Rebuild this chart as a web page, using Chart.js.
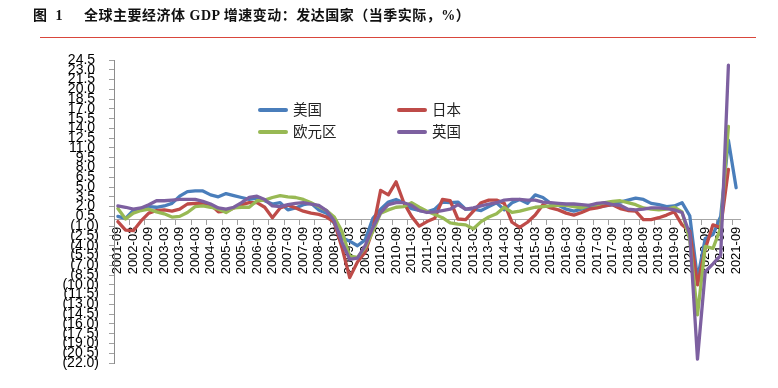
<!DOCTYPE html>
<html>
<head>
<meta charset="utf-8">
<script src="https://cdn.jsdelivr.net/npm/chart.js@4.4.1/dist/chart.umd.min.js"></script>
<style>
  html, body { margin: 0; padding: 0; background: #fff; }
  #wrap { position: relative; width: 778px; height: 388px; overflow: hidden; }
  #c { position: absolute; left: 0; top: 0; }
  .title { position: absolute; top: 7px; font-family: "Liberation Serif", "Noto Sans CJK SC", serif; font-weight: bold; font-size: 14px; color: #111; white-space: nowrap; line-height: 18px; letter-spacing: 0.5px; }
  #rule { position: absolute; left: 40px; top: 37px; width: 716px; height: 1px; background: #d9463b; }
  .lg { position: absolute; font-family: "Noto Sans CJK SC", sans-serif; font-size: 14.5px; color: #222; line-height: 18px; white-space: nowrap; }
  .sw { position: absolute; width: 30px; height: 4px; border-radius: 2px; }
</style>
</head>
<body>
<div id="wrap">
  <canvas id="c" width="778" height="388"></canvas>
  <div class="title" style="left:33px;">图&nbsp;&nbsp;1</div>
  <div class="title" style="left:84px;">全球主要经济体 GDP 增速变动：发达国家（当季实际，%）</div>
  <div id="rule"></div>
  <div id="legend"></div>
</div>
<script>
const quarters = [
 "2001-09","2001-12",
 "2002-03","2002-06","2002-09","2002-12",
 "2003-03","2003-06","2003-09","2003-12",
 "2004-03","2004-06","2004-09","2004-12",
 "2005-03","2005-06","2005-09","2005-12",
 "2006-03","2006-06","2006-09","2006-12",
 "2007-03","2007-06","2007-09","2007-12",
 "2008-03","2008-06","2008-09","2008-12",
 "2009-03","2009-06","2009-09","2009-12",
 "2010-03","2010-06","2010-09","2010-12",
 "2011-03","2011-06","2011-09","2011-12",
 "2012-03","2012-06","2012-09","2012-12",
 "2013-03","2013-06","2013-09","2013-12",
 "2014-03","2014-06","2014-09","2014-12",
 "2015-03","2015-06","2015-09","2015-12",
 "2016-03","2016-06","2016-09","2016-12",
 "2017-03","2017-06","2017-09","2017-12",
 "2018-03","2018-06","2018-09","2018-12",
 "2019-03","2019-06","2019-09","2019-12",
 "2020-03","2020-06","2020-09","2020-12",
 "2021-03","2021-06","2021-09"
];

const seriesNames = ["美国", "日本", "欧元区", "英国"];
const seriesColors = ["#4a7ebb", "#be4b48", "#98b954", "#7d60a0"];

const usGrowth = [
 0.5, 0.2,
 1.4, 1.7, 2.0, 1.9,
 2.1, 2.5, 3.6, 4.3,
 4.4, 4.4, 3.8, 3.5,
 4.0, 3.7, 3.4, 3.1,
 3.3, 2.9, 2.4, 2.6,
 1.5, 1.8, 2.3, 2.5,
 1.5, 1.0, -0.6, -2.8,
 -3.3, -4.0, -3.1, 0.2,
 1.6, 2.7, 3.1, 2.6,
 1.7, 1.4, 1.2, 1.6,
 2.7, 2.6, 2.7, 1.6,
 1.6, 1.4, 2.0, 2.6,
 1.5, 2.6, 3.1, 2.5,
 3.8, 3.4, 2.5, 2.2,
 1.6, 1.3, 1.6, 2.0,
 1.9, 2.1, 2.3, 2.7,
 3.0, 3.3, 3.1, 2.5,
 2.3, 2.0, 2.1, 2.6,
 0.6, -9.1, -2.9, -2.3,
 0.5, 12.2, 4.9
];

const japanGrowth = [
 -0.3, -1.6,
 -1.7, -0.2, 1.0, 1.4,
 1.5, 1.3, 1.6, 2.4,
 2.5, 2.5, 2.3, 1.2,
 1.3, 1.8, 2.3, 2.6,
 2.6, 1.9, 0.3, 1.8,
 2.2, 1.8, 1.3, 1.0,
 0.8, 0.4, -0.4, -4.3,
 -8.9, -6.5, -5.0, -1.5,
 4.5, 3.8, 5.8, 2.6,
 0.5, -1.0, -0.3, 0.2,
 3.1, 2.9, 0.1, 0.0,
 1.3, 2.6, 3.0, 3.0,
 2.5, -0.4, -1.2, -0.4,
 0.7, 2.3, 1.8, 1.5,
 1.0, 0.7, 1.1, 1.6,
 1.8, 2.1, 2.3, 1.7,
 1.4, 1.3, 0.0, 0.0,
 0.3, 0.7, 1.2, -0.8,
 -1.8, -10.0, -4.5, -0.8,
 -1.2, 7.7, null
];

const euroGrowth = [
 1.7, 0.1,
 1.0, 1.4, 1.6, 1.2,
 0.9, 0.4, 0.5, 1.1,
 2.0, 2.1, 1.9, 1.6,
 1.1, 1.8, 1.9, 1.9,
 2.9, 3.0, 3.4, 3.7,
 3.5, 3.4, 3.1, 2.6,
 2.0, 1.4, 0.4, -1.8,
 -5.6, -5.8, -4.3, -1.8,
 1.0, 1.5, 1.9, 2.0,
 2.6, 1.9, 1.3, 0.8,
 0.3, -0.5, -0.7, -0.8,
 -1.4, -0.3, 0.4, 0.9,
 1.9, 1.1, 1.3, 1.6,
 1.9, 2.0, 2.1, 2.2,
 2.2, 2.0, 1.8, 2.2,
 2.3, 2.6, 2.8, 2.9,
 2.6, 2.3, 1.8, 1.6,
 1.5, 1.6, 1.9, 1.2,
 -3.1, -14.6, -4.1, -4.4,
 -1.3, 14.3, null
];

const ukGrowth = [
 2.1, 1.9,
 1.6, 1.8, 2.3, 2.9,
 2.9, 3.0, 3.1, 3.1,
 3.1, 2.8, 2.4, 1.8,
 1.6, 1.9, 2.6, 3.4,
 3.6, 3.1, 2.1, 2.0,
 2.3, 2.5, 2.6, 2.4,
 2.2, 1.4, -0.2, -3.5,
 -6.1, -5.9, -4.0, -1.2,
 1.1, 2.3, 2.6, 2.6,
 2.2, 1.4, 1.1, 1.2,
 1.4, 1.6, 2.3, 1.6,
 1.8, 2.1, 2.4, 2.6,
 3.0, 3.1, 3.1, 3.0,
 3.0, 2.7, 2.6, 2.5,
 2.4, 2.4, 2.3, 2.2,
 2.5, 2.6, 2.3, 2.2,
 1.6, 1.5, 1.6, 1.8,
 1.8, 1.7, 1.5, 1.1,
 -2.2, -21.4, -8.0, -6.8,
 -5.5, 23.7, null
];

const yMin = -22.0, yMax = 24.5, yStep = 1.5;

const seriesValues = [usGrowth, japanGrowth, euroGrowth, ukGrowth];
const drawOrder = [4, 3, 2, 1];

const datasets = seriesNames.map((name, k) => ({
  label: name,
  data: seriesValues[k],
  borderColor: seriesColors[k],
  backgroundColor: seriesColors[k],
  borderWidth: 3.3,
  pointRadius: 0,
  tension: 0,
  fill: false,
  spanGaps: false,
  order: drawOrder[k],
  borderJoinStyle: 'round',
  borderCapStyle: 'round'
}));

// HTML legend
const legendPos = [[258, 110], [397, 110], [258, 132], [397, 132]];
const lg = document.getElementById('legend');
seriesNames.forEach((name, k) => {
  const [x, y] = legendPos[k];
  const sw = document.createElement('div');
  sw.className = 'sw';
  sw.style.left = x + 'px';
  sw.style.top = (y - 2) + 'px';
  sw.style.background = seriesColors[k];
  lg.appendChild(sw);
  const t = document.createElement('div');
  t.className = 'lg';
  t.style.left = (x + 35) + 'px';
  t.style.top = (y - 10) + 'px';
  t.textContent = name;
  lg.appendChild(t);
});

const tickFont = { family: '"Liberation Sans", Arial, sans-serif', size: 13 };

new Chart(document.getElementById('c'), {
  type: 'line',
  data: { labels: quarters, datasets },
  options: {
    responsive: false,
    animation: false,
    events: [],
    layout: { padding: { top: 60, bottom: 25, left: 0, right: 38 } },
    plugins: { legend: { display: false }, tooltip: { enabled: false }, title: { display: false } },
    scales: {
      x: {
        type: 'category',
        position: { y: 0 },
        offset: true,
        grid: {
          display: true,
          drawOnChartArea: false,
          drawTicks: true,
          tickLength: 5,
          offset: true,
          tickColor: (ctx) => (ctx.index !== undefined && ctx.index % 2 === 0) ? '#a0a0a0' : 'rgba(0,0,0,0)'
        },
        border: { display: true, color: '#a6a6a6', width: 1 },
        ticks: {
          autoSkip: false,
          maxRotation: 90,
          minRotation: 90,
          padding: 2,
          color: '#000',
          font: tickFont,
          callback: (v, i) => (i % 2 === 0 ? quarters[i] : '')
        }
      },
      y: {
        min: yMin,
        max: yMax,
        afterFit: (s) => { s.width = 114; },
        grid: {
          display: true,
          drawOnChartArea: false,
          drawTicks: true,
          tickLength: 5,
          tickColor: '#a0a0a0'
        },
        border: { display: true, color: '#8c8c8c', width: 1 },
        ticks: {
          stepSize: yStep,
          autoSkip: false,
          padding: 10,
          color: '#000',
          font: { family: '"Liberation Sans", Arial, sans-serif', size: 14 },
          callback: (v) => {
            const r = Math.round(v * 10) / 10;
            return r < 0 ? '(' + Math.abs(r).toFixed(1) + ')' : r.toFixed(1) + ' ';
          }
        }
      }
    }
  }
});
</script>
</body>
</html>
